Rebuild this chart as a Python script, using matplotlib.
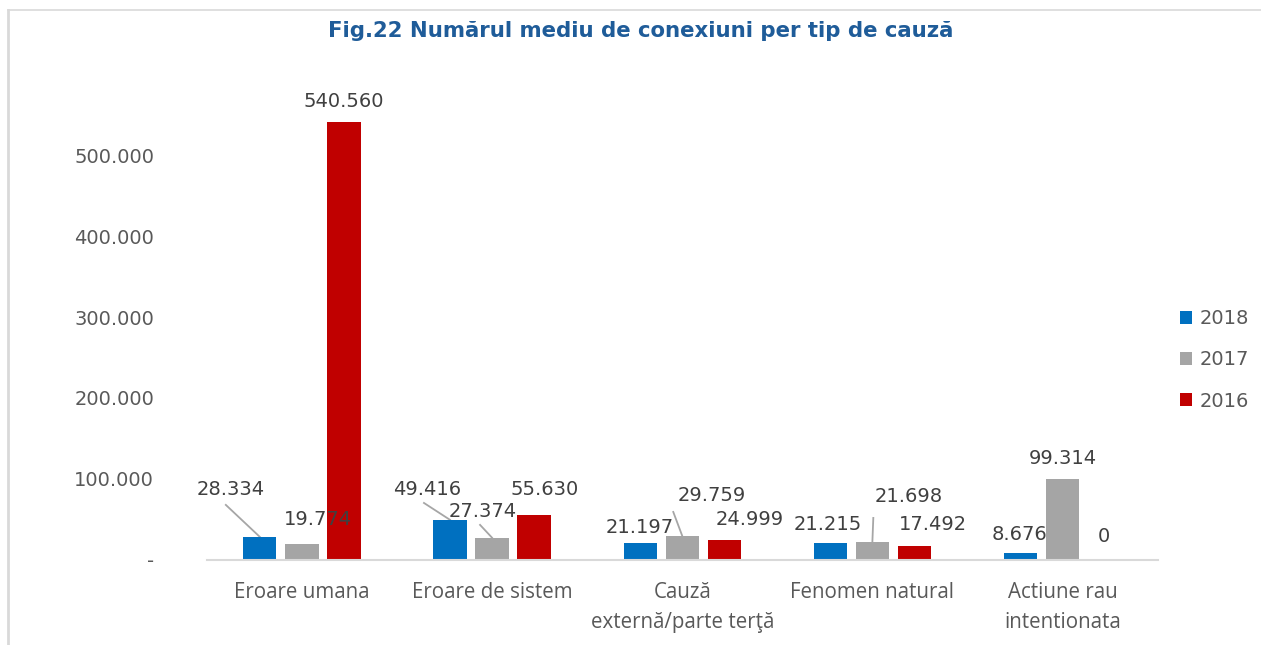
import matplotlib
matplotlib.use("Agg")
from matplotlib import pyplot as plt
from matplotlib.lines import Line2D
import numpy as np

categories = ["Eroare umana", "Eroare de sistem", "Cauză\nexternă/parte terţă",
              "Fenomen natural", "Actiune rau\nintentionata"]
years = ["2018", "2017", "2016"]
v2018 = [28334, 49416, 21197, 21215, 8676]
v2017 = [19774, 27374, 29759, 21698, 99314]
v2016 = [540560, 55630, 24999, 17492, 0]
yticks = [0, 100000, 200000, 300000, 400000, 500000]

colors = ["#0070C0", "#A5A5A5", "#C00000"]

def fmt(v):
    return "{:,}".format(v).replace(",", ".")

fig = plt.figure(figsize=(12.61, 6.45), dpi=100)
ax = fig.add_axes([0.164, 0.132, 0.754, 0.753])

x = np.arange(len(categories))
w = 0.175
off = 0.221
series = [v2018, v2017, v2016]
for i, (vals, c, lab) in enumerate(zip(series, colors, years)):
    ax.bar(x + (i - 1) * off, vals, width=w, color=c, label=lab, zorder=2)

# label placement per category/series: (dx, y) of text centre, None = above bar
label_pos = [
    [(-0.374, 86400), (0.084, 49400), None],
    [(-0.342, 86400), (-0.047, 59200), (0.279, 86400)],
    [(-0.226, 39500), (0.153, 79000), (0.353, 49400)],
    [(-0.237, 43200), (0.189, 77700), (0.321, 43200)],
    [(-0.226, 30800), None, (0.216, 28500)],
]
# leader line start points (dx, y), keyed by (category, series)
leaders = {
    (0, 0): (-0.40, 67900),
    (1, 0): (-0.358, 70300),
    (1, 1): (-0.063, 43200),
    (2, 1): (-0.047, 59200),
    (3, 1): (0.005, 51800),
}
for ci in range(len(categories)):
    for si in range(3):
        v = series[si][ci]
        bx = x[ci] + (si - 1) * off
        txt = fmt(v) if v else "0"
        pos = label_pos[ci][si]
        if pos is None:
            ax.text(bx, v + 14000, txt, ha="center", va="bottom",
                    fontsize=14, color="#404040")
        else:
            ax.text(x[ci] + pos[0], pos[1], txt, ha="center", va="center",
                    fontsize=14, color="#404040")
        if (ci, si) in leaders:
            lx, ly = leaders[(ci, si)]
            ax.plot([x[ci] + lx, bx], [ly, v], color="#A6A6A6", lw=1.3, zorder=1)

ax.set_xlim(-0.5, len(categories) - 0.5)
ax.set_ylim(0, 600000)
ax.set_yticks(yticks)
ax.set_yticklabels(["-" if t == 0 else fmt(t) for t in yticks], fontsize=14, color="#595959")
ax.set_xticks(x)
ax.set_xticklabels(categories, fontsize=14.8, color="#595959", family="Open Sans",
                   linespacing=1.55)
ax.tick_params(axis="y", length=0, pad=38)
ax.tick_params(axis="x", length=0, pad=16)
for s in ["top", "right", "left"]:
    ax.spines[s].set_visible(False)
ax.spines["bottom"].set_color("#D9D9D9")
ax.spines["bottom"].set_linewidth(1.5)

fig.text(0.508, 0.952, "Fig.22 Numărul mediu de conexiuni per tip de cauză",
         ha="center", va="center", fontsize=15.3, fontweight="bold", color="#1F5C99")

leg = ax.legend(loc="center left", bbox_to_anchor=(1.005, 0.412), frameon=False,
                fontsize=14, handlelength=0.65, handleheight=0.65, handletextpad=0.35,
                labelspacing=1.15)
for t in leg.get_texts():
    t.set_color("#595959")

# outer frame (left and top)
fig.add_artist(Line2D([0.0063, 0.0063], [0, 0.985], color="#D9D9D9", lw=2,
                      transform=fig.transFigure))
fig.add_artist(Line2D([0.0063, 1.0], [0.985, 0.985], color="#D9D9D9", lw=1.2,
                      transform=fig.transFigure))

fig.savefig("out.png", dpi=100)
